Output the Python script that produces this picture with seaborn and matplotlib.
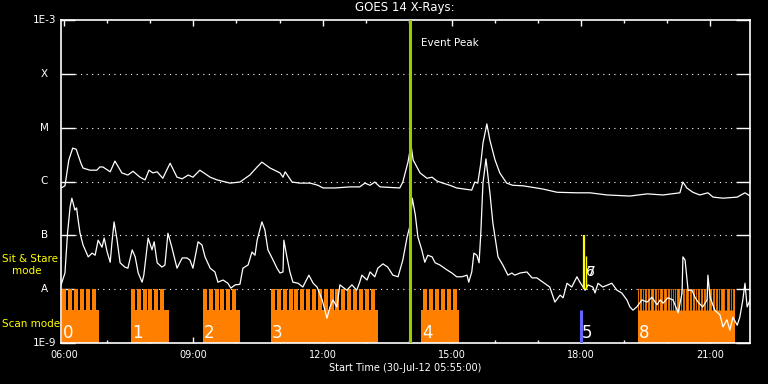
import numpy as np
import pandas as pd
import matplotlib
matplotlib.use("Agg")
import matplotlib.pyplot as plt
import seaborn as sns
from matplotlib.ticker import FixedLocator, MultipleLocator, NullLocator, FuncFormatter

sns.set_theme(style="dark", rc={
    "axes.facecolor": "black",
    "figure.facecolor": "black",
    "axes.edgecolor": "white",
    "text.color": "white",
    "xtick.color": "white",
    "ytick.color": "white",
    "axes.grid": False,
})
plt.rcParams["font.family"] = ["DejaVu Sans"]

# ---- GOES 14 light curves: (UT hour, log10 flux W/m^2) ----
long_pts = [
    (5.93, -6.12), (6.02, -6.08), (6.11, -5.60), (6.20, -5.38), (6.28, -5.40), (6.39, -5.66),
    (6.44, -5.75), (6.60, -5.79), (6.76, -5.79), (6.83, -5.73), (6.90, -5.73), (7.07, -5.82),
    (7.18, -5.62), (7.34, -5.84), (7.48, -5.88), (7.60, -5.81), (7.76, -5.92), (7.88, -5.97),
    (7.97, -5.79), (8.06, -5.84), (8.16, -5.82), (8.29, -5.94), (8.46, -5.66), (8.62, -5.92),
    (8.74, -5.95), (8.88, -5.88), (8.99, -5.92), (9.15, -5.79), (9.39, -5.92), (9.55, -5.97),
    (9.85, -6.03), (10.08, -6.01), (10.31, -5.88), (10.48, -5.73), (10.59, -5.64), (10.78, -5.75),
    (11.01, -5.84), (11.08, -5.92), (11.13, -5.82), (11.29, -6.01), (11.47, -6.03), (11.71, -6.03),
    (11.89, -6.07), (12.01, -6.12), (12.29, -6.12), (12.63, -6.10), (12.86, -6.10), (12.98, -6.03),
    (13.10, -6.07), (13.21, -6.01), (13.33, -6.10), (13.79, -6.12), (13.86, -6.01), (13.98, -5.64),
    (14.05, -5.32), (14.10, -5.60), (14.26, -5.84), (14.42, -5.94), (14.54, -5.92), (14.65, -5.99),
    (14.79, -6.03), (14.95, -6.07), (15.11, -6.12), (15.46, -6.16), (15.53, -6.01), (15.60, -6.03),
    (15.67, -5.66), (15.72, -5.29), (15.81, -4.93), (15.88, -5.23), (16.00, -5.60), (16.11, -5.84),
    (16.27, -6.03), (16.41, -6.07), (16.65, -6.08), (17.11, -6.14), (17.44, -6.20), (17.90, -6.21),
    (18.20, -6.21), (18.60, -6.25), (19.13, -6.27), (19.53, -6.23), (19.90, -6.25), (20.29, -6.21),
    (20.36, -6.01), (20.45, -6.12), (20.59, -6.20), (20.75, -6.25), (20.94, -6.21), (21.06, -6.29),
    (21.29, -6.31), (21.62, -6.29), (21.80, -6.21), (21.92, -6.27),
]

short_pts = [
    (5.93, -7.92), (6.02, -7.70), (6.08, -6.96), (6.14, -6.47), (6.18, -6.31), (6.21, -6.40),
    (6.25, -6.53), (6.29, -6.49), (6.32, -6.68), (6.37, -6.96), (6.44, -7.18), (6.56, -7.40),
    (6.65, -7.33), (6.72, -7.37), (6.79, -7.09), (6.88, -7.22), (6.93, -7.05), (7.00, -7.31),
    (7.07, -7.50), (7.11, -7.14), (7.16, -6.75), (7.23, -7.09), (7.30, -7.51), (7.41, -7.59),
    (7.48, -7.61), (7.58, -7.27), (7.65, -7.40), (7.72, -7.70), (7.81, -7.87), (7.85, -7.74),
    (7.95, -7.05), (8.04, -7.27), (8.09, -7.12), (8.16, -7.51), (8.27, -7.59), (8.34, -7.55),
    (8.41, -6.96), (8.50, -7.22), (8.62, -7.61), (8.74, -7.42), (8.85, -7.42), (8.92, -7.46),
    (8.99, -7.61), (9.11, -7.12), (9.20, -7.18), (9.27, -7.40), (9.39, -7.61), (9.50, -7.68),
    (9.57, -7.87), (9.69, -7.83), (9.80, -7.89), (9.87, -7.98), (9.97, -7.92), (10.08, -7.91),
    (10.15, -7.61), (10.27, -7.55), (10.36, -7.31), (10.43, -7.37), (10.48, -7.09), (10.59, -6.75),
    (10.66, -6.90), (10.73, -7.27), (10.85, -7.46), (10.94, -7.61), (11.01, -7.70), (11.08, -7.68),
    (11.10, -7.09), (11.17, -7.40), (11.24, -7.68), (11.31, -7.87), (11.43, -7.89), (11.54, -7.96),
    (11.68, -7.74), (11.78, -7.89), (11.87, -7.96), (11.99, -8.20), (12.10, -8.54), (12.17, -8.33),
    (12.24, -8.20), (12.33, -8.33), (12.40, -7.92), (12.56, -8.02), (12.68, -7.92), (12.79, -8.02),
    (12.86, -7.87), (12.91, -7.74), (13.03, -7.83), (13.10, -7.68), (13.21, -7.77), (13.28, -7.61),
    (13.40, -7.53), (13.51, -7.59), (13.63, -7.74), (13.75, -7.77), (13.86, -7.46), (13.96, -7.03),
    (14.03, -6.81), (14.08, -6.31), (14.15, -6.62), (14.21, -7.03), (14.30, -7.27), (14.37, -7.50),
    (14.44, -7.37), (14.54, -7.40), (14.61, -7.51), (14.72, -7.55), (14.88, -7.64), (15.00, -7.70),
    (15.11, -7.77), (15.23, -7.77), (15.35, -7.74), (15.39, -7.87), (15.46, -7.68), (15.51, -7.33),
    (15.58, -7.37), (15.63, -7.51), (15.67, -6.96), (15.72, -6.03), (15.79, -5.58), (15.88, -6.20),
    (15.95, -6.77), (16.07, -7.40), (16.18, -7.55), (16.30, -7.74), (16.39, -7.70), (16.46, -7.74),
    (16.58, -7.70), (16.74, -7.68), (16.86, -7.79), (16.97, -7.79), (17.11, -7.87), (17.27, -7.96),
    (17.39, -8.24), (17.51, -8.11), (17.58, -8.16), (17.67, -7.89), (17.78, -7.96), (17.90, -7.77),
    (17.97, -7.87), (18.09, -8.02), (18.16, -7.92), (18.27, -7.96), (18.32, -8.07), (18.39, -7.89),
    (18.50, -7.96), (18.62, -7.92), (18.71, -7.89), (18.83, -8.02), (18.94, -8.07), (19.06, -8.20),
    (19.13, -8.33), (19.20, -8.39), (19.29, -8.33), (19.41, -8.20), (19.53, -8.24), (19.64, -8.15),
    (19.76, -8.29), (19.83, -8.20), (19.90, -8.26), (20.01, -8.16), (20.13, -8.20), (20.25, -8.44),
    (20.34, -8.07), (20.36, -7.40), (20.41, -7.46), (20.48, -8.02), (20.57, -8.02), (20.64, -8.15),
    (20.71, -8.24), (20.82, -8.33), (20.92, -8.20), (20.94, -7.74), (20.99, -8.15), (21.10, -8.39),
    (21.22, -8.48), (21.29, -8.70), (21.38, -8.57), (21.45, -8.76), (21.52, -8.52), (21.62, -8.67),
    (21.68, -8.52), (21.75, -8.20), (21.80, -7.89), (21.85, -8.33), (21.92, -8.20),
]

# ---- IRIS-style observation timeline (UT hours) ----
scan_ids = ["0", "1", "2", "3", "4"]
scan_start = [5.96, 7.55, 9.22, 10.80, 14.28]
scan_end = [6.80, 8.44, 10.08, 13.28, 15.16]
raster_start = [5.96, 7.55, 9.22, 10.80, 14.34]
raster_steps = [6, 6, 6, 18, 6]
raster_cadence = 0.136
raster_width = 0.093

scan8_start, scan8_end = 19.32, 21.56
scan8_gaps = [19.35, 19.40, 19.46, 19.52, 19.59, 19.69, 19.75, 19.81, 19.90, 19.98, 20.06,
              20.10, 20.16, 20.21, 20.29, 20.35, 20.41, 20.50, 20.56, 20.64, 20.69, 20.75,
              20.83, 20.89, 20.95, 21.03, 21.10, 21.18, 21.23, 21.33, 21.37, 21.45, 21.51]

scan5_time = 17.99
sit_stare_times = [18.06, 18.10]
sit_stare_tops = [1e-7, 10 ** -7.39]
event_peak = 14.03

t_start, t_end = 5.9167, 21.9167
goes_levels = [1e-9, 1e-8, 1e-7, 1e-6, 1e-5, 1e-4, 1e-3]
goes_names = ["1E-9", "A", "B", "C", "M", "X", "1E-3"]

ORANGE = "#ff8000"
scan_low_top = 10 ** -8.39

fig = plt.figure(figsize=(7.68, 3.84), dpi=100)
ax = fig.add_axes([60.5 / 768, 41 / 384, 689.5 / 768, 323 / 384])
ax.set_yscale("log")
ax.set_xlim(t_start, t_end)
ax.set_ylim(1e-9, 1e-3)

# dotted flux-class lines
for lv in goes_levels[1:-1]:
    ax.axhline(lv, xmin=0.021, xmax=0.98, color="white", lw=0.8,
               linestyle=(0, (1, 4)), zorder=1)

# scan blocks
for sid, s, e, rs, n in zip(scan_ids, scan_start, scan_end, raster_start, raster_steps):
    ax.bar(s, scan_low_top - 1e-9, bottom=1e-9, width=e - s, align="edge",
           color=ORANGE, lw=0, zorder=2)
    pos = [rs + i * raster_cadence for i in range(n)]
    ax.bar(pos, 1e-8 - scan_low_top, bottom=scan_low_top, width=raster_width,
           align="edge", color=ORANGE, lw=0, zorder=2)
    ax.text(s + 0.02, 1.55e-9, sid, color="white", fontsize=12, ha="left",
            va="center", zorder=6)

ax.bar(scan8_start, 1e-8 - 1e-9, bottom=1e-9, width=scan8_end - scan8_start,
       align="edge", color=ORANGE, lw=0, zorder=2)
ax.vlines(scan8_gaps, scan_low_top, 1e-8, color="black", lw=0.9, zorder=2.5)
ax.text(scan8_start + 0.02, 1.55e-9, "8", color="white", fontsize=12, ha="left",
        va="center", zorder=6)

# GOES curves
df_long = pd.DataFrame(long_pts, columns=["hour", "logf"])
df_long["flux"] = 10 ** df_long["logf"]
df_short = pd.DataFrame(short_pts, columns=["hour", "logf"])
df_short["flux"] = 10 ** df_short["logf"]
sns.lineplot(data=df_long, x="hour", y="flux", ax=ax, color="white", lw=0.9,
             sort=False, estimator=None, zorder=4)
sns.lineplot(data=df_short, x="hour", y="flux", ax=ax, color="white", lw=0.9,
             sort=False, estimator=None, zorder=4)

# scan 5 (blue) and sit & stare 6/7 (yellow)
ax.vlines(scan5_time, 1e-9, scan_low_top, color="#6464ff", lw=2.2, zorder=5)
ax.text(scan5_time + 0.03, 1.55e-9, "5", color="white", fontsize=12, ha="left",
        va="center", zorder=6)
ax.vlines(sit_stare_times[0], 1e-8, sit_stare_tops[0], color="yellow", lw=1.6, zorder=5)
ax.vlines(sit_stare_times[1], 1e-8, sit_stare_tops[1], color="yellow", lw=1.0, zorder=5)
for lab in ["6", "7"]:
    ax.text(sit_stare_times[1] + 0.02, 10 ** -7.68, lab, color="white", fontsize=10,
            ha="left", va="center", zorder=6)

# event peak
ax.axvline(event_peak, color="#9acd00", lw=2.2, zorder=5)
ax.text(event_peak + 0.25, 10 ** -3.43, "Event Peak", color="white", fontsize=7.5,
        ha="left", va="center")

# axes / ticks
for sp in ax.spines.values():
    sp.set_color("white")
    sp.set_linewidth(1.2)
ax.xaxis.set_major_locator(MultipleLocator(3))
ax.xaxis.set_minor_locator(MultipleLocator(1))
ax.xaxis.set_major_formatter(FuncFormatter(lambda v, p: f"{int(round(v)):02d}:00"))
ax.tick_params(axis="x", which="both", direction="in", top=True, bottom=True,
               colors="white", labelsize=7, width=1, pad=5)
ax.tick_params(axis="x", which="major", length=4.3)
ax.tick_params(axis="x", which="minor", length=2.5)
ax.yaxis.set_major_locator(FixedLocator(goes_levels))
ax.yaxis.set_minor_locator(NullLocator())
ax.tick_params(axis="y", which="major", direction="in", left=True, right=True,
               length=10, width=1, labelleft=False)
ax.set_xlabel("")
ax.set_ylabel("")

ytrans = ax.get_yaxis_transform()
for lv, name in zip(goes_levels, goes_names):
    ax.text(-0.0232, lv, name, transform=ytrans, color="white", fontsize=7.5,
            ha="center", va="center", clip_on=False)

fig.text(405 / 768, 1 - 8 / 384, "GOES 14 X-Rays:", ha="center", va="center",
         color="white", fontsize=8.5)
fig.text(405 / 768, 1 - 368 / 384, "Start Time (30-Jul-12 05:55:00)", ha="center",
         va="center", color="white", fontsize=7)
fig.text(2 / 768, 1 - 259 / 384, "Sit & Stare", color="yellow", fontsize=7.5,
         ha="left", va="center")
fig.text(12 / 768, 1 - 271 / 384, "mode", color="yellow", fontsize=7.5,
         ha="left", va="center")
fig.text(2 / 768, 1 - 324 / 384, "Scan mode", color="yellow", fontsize=7.5,
         ha="left", va="center")

fig.savefig("out.png", dpi=100, facecolor="black")
